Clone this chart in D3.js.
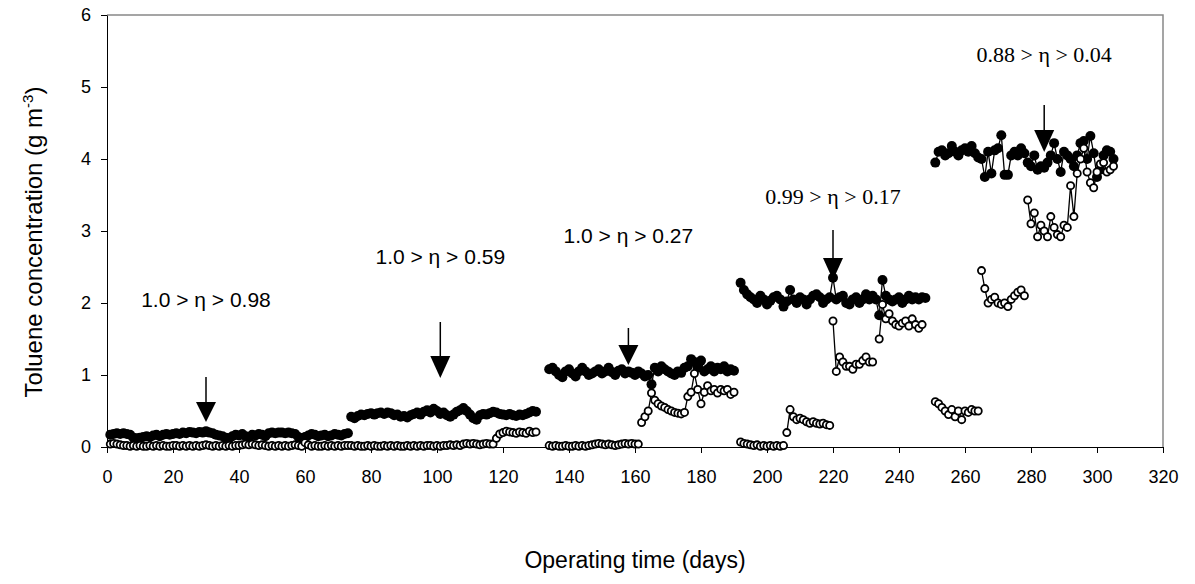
<!DOCTYPE html>
<html><head><meta charset="utf-8">
<script src="https://cdn.jsdelivr.net/npm/d3@7"></script>
<style>body{margin:0;background:#fff}svg{display:block}</style>
</head><body>
<svg id="c" width="1195" height="584"></svg>
<script>
// ---- data ----
const xTicks = [0,20,40,60,80,100,120,140,160,180,200,220,240,260,280,300,320];
const yTicks = [0,1,2,3,4,5,6];

// inlet (filled) segments: start days and daily values
const inletStart = [1, 74, 134, 192, 251];
const inlet1 = [0.17,0.18,0.19,0.18,0.19,0.18,0.17,0.13,0.12,0.13,
  0.14,0.15,0.14,0.16,0.17,0.15,0.17,0.18,0.17,0.18,
  0.19,0.18,0.2,0.19,0.21,0.2,0.19,0.21,0.2,0.22,
  0.2,0.19,0.17,0.16,0.15,0.13,0.12,0.15,0.17,0.16,
  0.18,0.15,0.14,0.17,0.16,0.18,0.17,0.15,0.19,0.2,
  0.19,0.2,0.2,0.19,0.2,0.19,0.18,0.14,0.12,0.14,
  0.16,0.18,0.17,0.15,0.16,0.17,0.15,0.16,0.18,0.17,
  0.16,0.18,0.19];
const inlet2 = [0.42,0.4,0.43,0.45,0.44,0.46,0.47,0.45,0.47,0.48,
  0.46,0.48,0.47,0.44,0.45,0.42,0.43,0.41,0.44,0.46,
  0.48,0.45,0.49,0.51,0.48,0.53,0.5,0.46,0.48,0.44,
  0.42,0.45,0.49,0.51,0.54,0.5,0.45,0.4,0.38,0.44,
  0.46,0.45,0.47,0.49,0.48,0.46,0.45,0.44,0.46,0.44,
  0.43,0.45,0.44,0.46,0.48,0.5,0.49];
const inlet3 = [1.08,1.1,1.05,1.0,0.97,1.05,1.08,1.02,0.98,1.05,
  1.1,1.05,1.0,1.02,1.05,1.08,1.02,1.05,1.1,1.04,
  1.0,1.06,1.08,1.02,1.05,1.03,1.0,1.05,1.02,0.98,
  1.0,0.87,1.1,1.05,1.12,1.08,1.05,1.02,1.0,1.05,
  1.03,1.1,1.12,1.22,1.18,1.1,1.2,1.05,1.08,1.12,
  1.05,1.1,1.08,1.12,1.05,1.08,1.06];
const inlet4 = [2.28,2.18,2.12,2.08,2.05,2.0,2.1,2.05,1.98,2.03,
  2.08,2.1,2.05,1.95,2.02,2.18,2.05,2.0,2.08,2.05,
  1.98,2.05,2.1,2.12,2.08,2.0,2.05,2.08,2.35,2.05,
  2.08,2.1,2.0,1.98,2.05,2.08,2.0,2.05,2.12,2.05,
  2.1,2.05,1.83,2.32,2.1,2.05,2.02,2.05,2.08,2.0,
  2.05,2.1,2.05,2.08,2.05,2.08,2.07];
const inlet5 = [3.95,4.1,4.12,4.05,4.08,4.18,4.1,4.05,4.12,4.15,
  4.1,4.18,4.08,4.02,4.0,3.75,4.1,3.8,4.12,4.15,
  4.33,3.78,3.78,4.05,4.1,4.05,4.15,4.08,3.95,3.9,
  4.05,3.85,3.9,3.88,3.95,4.05,4.22,4.0,3.82,4.1,
  4.05,4.0,3.9,4.05,4.22,4.25,4.0,4.32,4.08,3.75,
  3.85,4.05,4.12,4.1,4.0];

// outlet (open) segments
const outletStart = [1, 60, 74, 134, 162, 192, 206, 220, 234, 251, 265, 279];
const outletA = [0.04,0.05,0.04,0.03,0.02,0.02,0.01,0.02,0.01,0.02,
  0.01,0.01,0.02,0.01,0.02,0.01,0.02,0.01,0.01,0.02,
  0.02,0.01,0.02,0.01,0.02,0.01,0.02,0.01,0.02,0.03,
  0.02,0.01,0.02,0.01,0.02,0.01,0.02,0.01,0.02,0.02,
  0.03,0.04,0.03,0.04,0.03,0.02,0.03,0.02,0.01,0.02,
  0.01,0.02,0.01,0.02,0.01,0.02,0.03,0.02,0.01];
const outletB = [0.06,0.03,0.01,0.02,0.01,0.01,0.02,0.01,0.02,0.01,0.02,0.01,0.02,0.02];
const outletC = [0.02,0.01,0.02,0.01,0.01,0.02,0.01,0.02,0.01,0.01,
  0.02,0.01,0.02,0.01,0.02,0.01,0.01,0.02,0.01,0.02,
  0.01,0.02,0.01,0.02,0.02,0.01,0.02,0.01,0.02,0.02,
  0.03,0.02,0.03,0.02,0.04,0.05,0.04,0.05,0.04,0.03,
  0.04,0.05,0.04,0.04,
  0.12,0.18,0.2,0.22,0.21,0.2,0.19,0.21,0.2,0.19,0.22,0.2,0.21];
const outletD = [0.02,0.01,0.02,0.01,0.01,0.02,0.01,0.01,0.02,0.01,
  0.02,0.01,0.02,0.03,0.04,0.05,0.04,0.03,0.04,0.03,
  0.02,0.03,0.04,0.05,0.04,0.05,0.04,0.04];
const outletE = [0.34,0.42,0.5,0.75,0.65,0.6,0.57,0.55,0.52,0.5,
  0.48,0.47,0.46,0.48,0.7,0.76,1.02,0.8,0.6,0.76,
  0.85,0.78,0.8,0.75,0.8,0.78,0.8,0.73,0.76];
const outletF = [0.07,0.05,0.04,0.03,0.02,0.03,0.01,0.02,0.01,0.02,0.01,0.02,0.01,0.02];
const outletG = [0.2,0.52,0.42,0.38,0.4,0.38,0.35,0.33,0.35,0.33,0.32,0.33,0.31,0.3];
const outletH = [1.75,1.05,1.25,1.18,1.12,1.12,1.08,1.15,1.15,1.2,1.25,1.18,1.18];
const outletI = [1.5,1.98,1.78,1.85,1.75,1.7,1.68,1.72,1.75,1.68,1.78,1.7,1.65,1.7];
const outletJ = [0.63,0.6,0.55,0.5,0.45,0.52,0.42,0.5,0.38,0.5,0.48,0.52,0.5,0.5];
const outletK = [2.45,2.2,2.0,2.05,2.08,2.0,1.98,2.0,1.95,2.05,2.1,2.15,2.18,2.1];
const outletL = [3.43,3.1,3.25,2.92,3.08,3.0,2.92,3.2,3.05,2.95,2.92,3.08,3.05,
  3.63,3.2,3.8,4.0,4.15,3.82,3.67,3.6,3.82,3.93,3.95,3.82,3.85,3.9];

// annotations
const annoText = ["1.0 > η > 0.98","1.0 > η > 0.59","1.0 > η > 0.27","0.99 > η > 0.17","0.88 > η > 0.04"];
const annoDay = [30, 101, 158, 220, 284];
const annoSerif = [false,false,false,true,true];

// ---- build ----
const inletSegs = [inlet1,inlet2,inlet3,inlet4,inlet5].map((v,i)=>v.map((y,k)=>({d:inletStart[i]+k,v:y})));
const outletSegs = [outletA,outletB,outletC,outletD,outletE,outletF,outletG,outletH,outletI,outletJ,outletK,outletL]
  .map((v,i)=>v.map((y,k)=>({d:outletStart[i]+k,v:y})));

const L=107,R=1163,T=15,B=447;
const x = d3.scaleLinear().domain([0,320]).range([L,R]);
const y = d3.scaleLinear().domain([0,6]).range([B,T]);
const svg = d3.select("#c");

// frame (top/right grey)
svg.append("path").attr("d",`M${L},${T}H${R}V${B}`).attr("fill","none").attr("stroke","#888").attr("stroke-width",1.5);

const xa = svg.append("g").attr("transform",`translate(0,${B})`)
  .call(d3.axisBottom(x).tickValues(xTicks).tickFormat(d3.format("d")).tickSize(6).tickSizeOuter(0).tickPadding(17));
const ya = svg.append("g").attr("transform",`translate(${L},0)`)
  .call(d3.axisLeft(y).tickValues(yTicks).tickFormat(d3.format("d")).tickSize(6).tickSizeOuter(0).tickPadding(10));
[xa,ya].forEach(g=>{
  g.selectAll("path,line").attr("stroke","#000").attr("stroke-width",1);
  g.selectAll("text").attr("font-family","Liberation Sans, Arial, sans-serif").attr("font-size",18).attr("fill","#000");
});

const line = d3.line().x(p=>x(p.d)).y(p=>y(p.v));
const gIn = svg.append("g"), gOut = svg.append("g");
inletSegs.forEach(s=>{
  gIn.append("path").attr("d",line(s)).attr("fill","none").attr("stroke","#000").attr("stroke-width",1.3);
  gIn.selectAll(null).data(s).enter().append("circle")
    .attr("cx",p=>x(p.d)).attr("cy",p=>y(p.v)).attr("r",5).attr("fill","#000");
});
outletSegs.forEach(s=>{
  gOut.append("path").attr("d",line(s)).attr("fill","none").attr("stroke","#000").attr("stroke-width",1.3);
});
outletSegs.forEach(s=>{
  gOut.selectAll(null).data(s).enter().append("circle")
    .attr("cx",p=>x(p.d)).attr("cy",p=>y(p.v)).attr("r",3.6).attr("fill","#fff")
    .attr("stroke","#000").attr("stroke-width",1.8);
});

// annotations: text + arrow
const annoTextY = [307, 264, 243, 204, 62];
const annoShaftTop = [377, 322, 328, 230, 105];
const annoHeadTop = [402, 356, 345, 258, 130];
const annoTip = [422, 378, 365, 280, 152];
annoText.forEach((t,i)=>{
  const ax = x(annoDay[i]);
  svg.append("line").attr("x1",ax).attr("x2",ax).attr("y1",annoShaftTop[i]).attr("y2",annoHeadTop[i]+2)
    .attr("stroke","#000").attr("stroke-width",1.5);
  svg.append("path").attr("d",`M${ax-10},${annoHeadTop[i]}L${ax+10},${annoHeadTop[i]}L${ax},${annoTip[i]}Z`).attr("fill","#000");
  svg.append("text").attr("x",ax).attr("y",annoTextY[i])
    .attr("text-anchor","middle")
    .attr("font-family",annoSerif[i]?"Liberation Serif, Times New Roman, serif":"Liberation Sans, Arial, sans-serif")
    .attr("font-size",annoSerif[i]?22:21).attr("fill","#000").text(t);
});

// axis titles
svg.append("text").attr("x",635).attr("y",568).attr("text-anchor","middle")
  .attr("font-family","Liberation Sans, Arial, sans-serif").attr("font-size",23).text("Operating time (days)");
const yt = svg.append("text").attr("transform",`translate(42,242) rotate(-90)`).attr("text-anchor","middle")
  .attr("font-family","Liberation Sans, Arial, sans-serif").attr("font-size",24);
yt.append("tspan").text("Toluene concentration (g m");
yt.append("tspan").attr("dy",-9).attr("font-size",15).text("-3");
yt.append("tspan").attr("dy",9).text(")");
</script>
</body></html>
